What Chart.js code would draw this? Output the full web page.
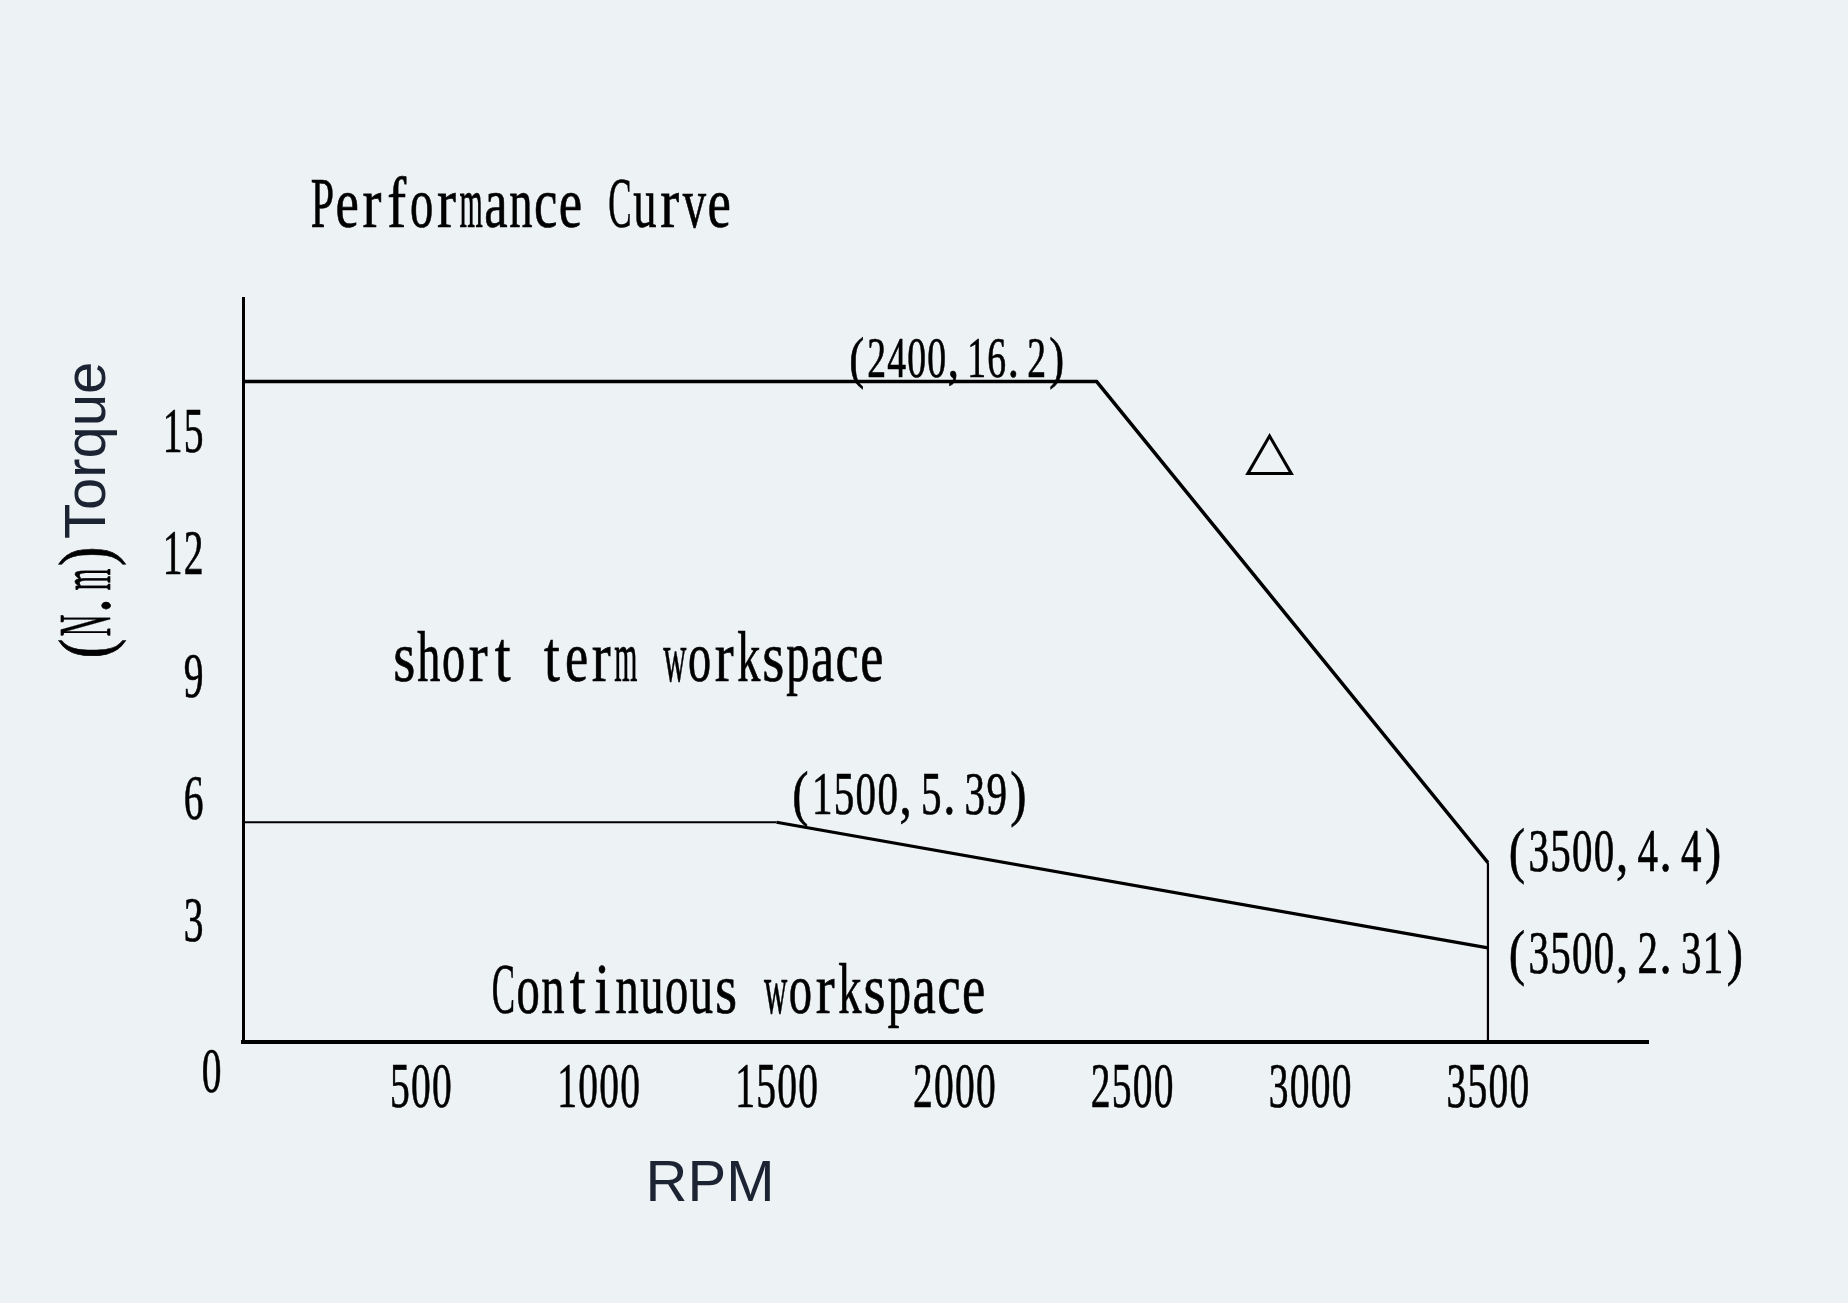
<!DOCTYPE html>
<html>
<head>
<meta charset="utf-8">
<title>Performance Curve</title>
<script src="https://cdn.jsdelivr.net/npm/chart.js@4.4.1/dist/chart.umd.min.js"></script>
<style>
  html, body { margin: 0; padding: 0; background: #edf2f5; }
  canvas { display: block; }
</style>
</head>
<body>
<canvas id="perfChart" width="1848" height="1303"></canvas>
<script>
// short term (peak) torque curve
const peakRpm = [0, 2400, 3500, 3500];
const peakTorque = [16.2, 16.2, 4.4, 0];
// continuous torque curve
const contRpm = [0, 1500, 3500];
const contTorque = [5.39, 5.39, 2.31];
// axis tick labels
const rpmTicks = [500, 1000, 1500, 2000, 2500, 3000, 3500];
const torqueTicks = [0, 3, 6, 9, 12, 15];
// corner points that get a "(rpm,torque)" callout: [dataset, index]
const callouts = [[0, 1], [0, 2], [1, 1], [1, 2]];

const SERIF = '"Liberation Serif", "Times New Roman", serif';
const SANS = '"Liberation Sans", Arial, sans-serif';

// the original uses a narrow, half-width serif face, so every glyph
// sits in a fixed cell and is squeezed horizontally
function monoText(ctx, text, left, baseline, size, cell) {
  ctx.save();
  ctx.font = size + 'px ' + SERIF;
  ctx.textAlign = 'center';
  ctx.textBaseline = 'alphabetic';
  ctx.strokeStyle = ctx.fillStyle;
  ctx.lineWidth = 0.7;
  [...text].forEach((ch, i) => {
    if (ch === ' ') return;
    const w = ctx.measureText(ch).width;
    const s = Math.min(0.8, cell * 0.94 / w);
    const punct = ch === ',' || ch === '.';
    const cx = punct ? left + i * cell + w * s / 2 + 1 : left + i * cell + cell / 2;
    ctx.save();
    ctx.translate(cx, baseline);
    ctx.scale(s, 1);
    ctx.fillText(ch, 0, 0);
    ctx.strokeText(ch, 0, 0);
    ctx.restore();
  });
  ctx.restore();
}

// callout placement relative to its point: left offset, baseline offset, font size, cell
const calloutStyle = {
  '0,1': { dx: -250, dy: -5, size: 56, cell: 20 },
  '0,2': { dx: 18, dy: 8, size: 61, cell: 21.8 },
  '1,1': { dx: 13, dy: -8, size: 61, cell: 21.8 },
  '1,2': { dx: 18, dy: 25, size: 61, cell: 21.8 }
};

const textPlugin = {
  id: 'sketchText',
  afterDraw(chart) {
    const { ctx } = chart;
    const { x, y } = chart.scales;
    ctx.save();
    ctx.fillStyle = '#000';

    monoText(ctx, 'Performance Curve', 310, 227, 71, 24.8);
    monoText(ctx, 'short term workspace', 392, 681, 71, 24.6);
    monoText(ctx, 'Continuous workspace', 491, 1013, 71, 24.75);

    // tick labels, placed with the chart's own scales
    rpmTicks.forEach(v => {
      const s = String(v);
      monoText(ctx, s, x.getPixelForValue(v) - s.length * 21 / 2, 1107, 63, 21);
    });
    torqueTicks.forEach(v => {
      const s = String(v);
      const py = y.getPixelForValue(v);
      if (v === 0) {
        // shared origin label sits below the corner
        monoText(ctx, s, x.left - 42, py + 50, 63, 21);
      } else {
        monoText(ctx, s, x.left - 39 - s.length * 21, py + 21.5, 63, 21);
      }
    });

    // point callouts
    const sets = [[peakRpm, peakTorque], [contRpm, contTorque]];
    callouts.forEach(([d, i]) => {
      const pt = chart.getDatasetMeta(d).data[i];
      const st = calloutStyle[d + ',' + i];
      const txt = '(' + sets[d][0][i] + ',' + sets[d][1][i] + ')';
      monoText(ctx, txt, pt.x + st.dx, pt.y + st.dy, st.size, st.cell);
    });

    // delta connection mark
    ctx.save();
    ctx.font = '60px "DejaVu Sans"';
    ctx.textAlign = 'left';
    ctx.textBaseline = 'alphabetic';
    const m = ctx.measureText('△');
    const tw = m.actualBoundingBoxLeft + m.actualBoundingBoxRight;
    const th = m.actualBoundingBoxAscent + m.actualBoundingBoxDescent;
    ctx.translate(1245, 432);
    ctx.scale(49 / tw, 43 / th);
    ctx.fillText('△', m.actualBoundingBoxLeft, m.actualBoundingBoxAscent);
    ctx.restore();

    // axis titles
    ctx.fillStyle = '#1c2434';
    ctx.font = '58px ' + SANS;
    ctx.textAlign = 'center';
    ctx.fillText('RPM', 710, 1201);

    ctx.save();
    ctx.translate(110, 660);
    ctx.rotate(-Math.PI / 2);
    ctx.fillStyle = '#000';
    monoText(ctx, '(N.m)', 0, 0, 74, 23);
    ctx.fillStyle = '#1c2434';
    ctx.font = '58px ' + SANS;
    ctx.textAlign = 'left';
    ctx.fillText('Torque', 121, -5);
    ctx.restore();

    ctx.restore();
  }
};

new Chart(document.getElementById('perfChart'), {
  type: 'scatter',
  data: {
    datasets: [
      {
        label: 'short term',
        data: peakRpm.map((r, i) => ({ x: r, y: peakTorque[i] })),
        showLine: true,
        borderColor: '#000',
        borderWidth: 3.4,
        pointRadius: 0,
        segment: { borderWidth: c => (c.p0DataIndex === 2 ? 2.2 : 3.4) }
      },
      {
        label: 'continuous',
        data: contRpm.map((r, i) => ({ x: r, y: contTorque[i] })),
        showLine: true,
        borderColor: '#000',
        borderWidth: 3.2,
        pointRadius: 0,
        segment: { borderWidth: c => (c.p0DataIndex === 0 ? 1.8 : 3.2) }
      }
    ]
  },
  options: {
    responsive: false,
    animation: false,
    devicePixelRatio: 1,
    layout: { padding: { left: 243, top: 298, right: 200, bottom: 261 } },
    plugins: { legend: { display: false }, tooltip: { enabled: false } },
    scales: {
      x: {
        type: 'linear', min: 0, max: 3950,
        ticks: { display: false, stepSize: 500 },
        grid: { display: false, drawTicks: false },
        border: { display: true, color: '#000', width: 4 }
      },
      y: {
        type: 'linear', min: 0, max: 18.25,
        ticks: { display: false, stepSize: 3 },
        grid: { display: false, drawTicks: false },
        border: { display: true, color: '#000', width: 3 }
      }
    }
  },
  plugins: [textPlugin]
});
</script>
</body>
</html>
